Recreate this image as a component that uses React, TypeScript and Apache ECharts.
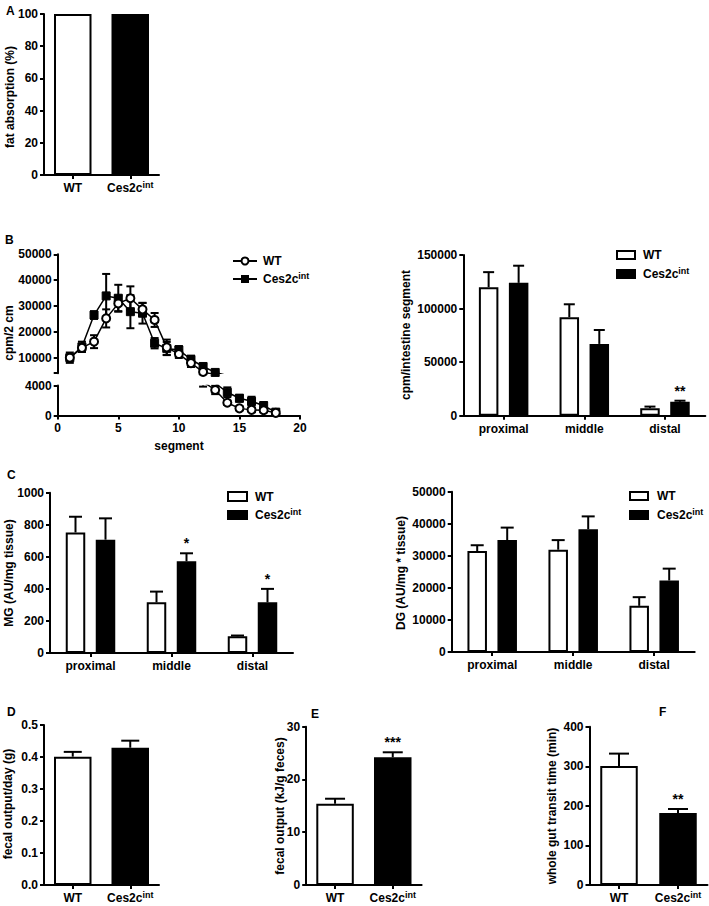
import React, { useEffect, useRef } from 'react';
import * as echarts from 'echarts';

const FONT = '"Liberation Sans", Arial, Helvetica, sans-serif';

// ---- data ----
const groups = ['WT', 'Ces2c'];

// A: fat absorption (%)
const fatAbsorption = [100, 100];

// B left: cpm / 2 cm per segment
const segments = [1, 2, 3, 4, 5, 6, 7, 8, 9, 10, 11, 12, 13, 14, 15, 16, 17, 18];
const cpmWT = [10000, 13800, 16200, 25200, 31000, 33000, 28700, 24600, 14000, 11400, 7900, 4500, 3400, 1700, 950, 750, 700, 350];
const cpmWTErr = [1000, 1500, 2500, 3500, 3000, 4600, 2500, 2700, 3000, 1500, 1500, 650, 550, 300, 250, 250, 250, 200];
const cpmCes = [10000, 14200, 26500, 33900, 33000, 27800, 27200, 15600, 13600, 13000, 9300, 6600, 4300, 3100, 2300, 1900, 1300, 450];
const cpmCesErr = [2000, 2000, 1500, 8500, 5200, 6400, 4000, 2000, 2500, 1500, 1500, 1000, 250, 650, 450, 600, 500, 300];

// B right: cpm / intestine segment
const regions = ['proximal', 'middle', 'distal'];
const segWT = [120000, 92000, 7000];
const segWTErr = [14000, 12000, 1500];
const segCes = [124000, 67000, 13000];
const segCesErr = [16000, 13000, 1000];
const segSig = ['', '', '**'];

// C left: MG (AU/mg tissue)
const mgWT = [752, 316, 104];
const mgWTErr = [98, 67, 5];
const mgCes = [707, 572, 316];
const mgCesErr = [133, 50, 84];
const mgSig = ['', '*', '*'];

// C right: DG (AU/mg * tissue)
const dgWT = [31500, 31900, 14400];
const dgWTErr = [1800, 3000, 2700];
const dgCes = [34900, 38300, 22300];
const dgCesErr = [3900, 4000, 3700];

// D: fecal output/day (g)
const fecalDay = [0.401, 0.429];
const fecalDayErr = [0.015, 0.022];

// E: fecal output (kJ/g feces)
const fecalEnergy = [15.4, 24.2];
const fecalEnergyErr = [0.95, 0.95];
const fecalEnergySig = ['', '***'];

// F: whole gut transit time (min)
const transit = [301, 182];
const transitErr = [31, 10];
const transitSig = ['', '**'];

// ---- styles ----
const BLACK = '#000';
const axisLine = { show: true, onZero: false, lineStyle: { color: BLACK, width: 2 } };
const tick = { show: true, length: 4, lineStyle: { color: BLACK, width: 2 } };
const plain = (v: number) => String(v);
const lbl = (extra: any = {}) => ({
  color: BLACK,
  fontFamily: FONT,
  fontWeight: 'bold',
  fontSize: 12,
  margin: 6,
  formatter: plain,
  ...extra,
});
const supRich = {
  sup: { fontSize: 9, fontWeight: 'bold', fontFamily: FONT, color: BLACK, fill: BLACK, verticalAlign: 'top', lineHeight: 8 },
};
const catFormatter = (v: string) => (v === 'Ces2c' ? 'Ces2c{sup|int}' : v);

const GROUP_BAR_W = 19.5;
const GROUP_OFFSET = 15;
const PAIR_BAR_W = 37.5;

function catX(gi: number, data: string[]) {
  return {
    type: 'category',
    gridIndex: gi,
    data,
    axisLine,
    axisTick: { ...tick, alignWithLabel: true, interval: 0 },
    axisLabel: lbl({ formatter: catFormatter, rich: supRich, lineHeight: 16, margin: 5, interval: 0, hideOverlap: false }),
    splitLine: { show: false },
  };
}

function valY(gi: number, min: number, max: number, interval: number, fmt?: (v: number) => string) {
  return {
    type: 'value',
    gridIndex: gi,
    min,
    max,
    interval,
    axisLine,
    axisTick: tick,
    axisLabel: lbl(fmt ? { formatter: fmt } : {}),
    splitLine: { show: false },
  };
}

function pairBars(ai: number, values: number[]) {
  return {
    type: 'bar',
    xAxisIndex: ai,
    yAxisIndex: ai,
    barWidth: PAIR_BAR_W,
    silent: true,
    z: 2,
    data: values.map((v, i) => ({
      value: v,
      itemStyle: { color: i === 0 ? '#fff' : BLACK, borderColor: BLACK, borderWidth: 2 },
    })),
  };
}

function groupBar(ai: number, values: number[], filled: boolean) {
  return {
    type: 'bar',
    xAxisIndex: ai,
    yAxisIndex: ai,
    barWidth: GROUP_BAR_W,
    barGap: ((GROUP_OFFSET * 2) / GROUP_BAR_W - 1) * 100 + '%',
    silent: true,
    z: 2,
    data: values,
    itemStyle: { color: filled ? BLACK : '#fff', borderColor: BLACK, borderWidth: 2 },
  };
}

function errSeries(
  ai: number,
  xs: number[],
  vals: number[],
  errs: number[],
  offset: number,
  capHalf: number,
  both: boolean,
  sig?: string[],
  clip = false
) {
  return {
    type: 'custom',
    xAxisIndex: ai,
    yAxisIndex: ai,
    silent: true,
    z: 3,
    data: xs.map((x, i) => [x, vals[i], errs[i]]),
    renderItem: (params: any, api: any) => {
      const x = api.value(0);
      const v = api.value(1);
      const e = api.value(2);
      const top = api.coord([x, v + e]);
      const bot = api.coord([x, both ? v - e : v]);
      const cx = top[0] + offset;
      const st = { stroke: BLACK, lineWidth: 2 };
      let y1 = top[1];
      let y2 = bot[1];
      let capTop = true;
      let capBot = both;
      if (clip) {
        const cs = params.coordSys;
        const yMin = cs.y;
        const yMax = cs.y + cs.height;
        if (y2 < yMin || y1 > yMax) return { type: 'group', children: [] };
        if (y1 < yMin - 0.5) { y1 = yMin; capTop = false; }
        if (y2 > yMax + 0.5) { y2 = yMax; capBot = false; }
      }
      const children: any[] = [
        { type: 'line', shape: { x1: cx, y1, x2: cx, y2 }, style: st },
      ];
      if (capTop) {
        children.push({ type: 'line', shape: { x1: cx - capHalf, y1, x2: cx + capHalf, y2: y1 }, style: st });
      }
      if (capBot) {
        children.push({ type: 'line', shape: { x1: cx - capHalf, y1: y2, x2: cx + capHalf, y2 }, style: st });
      }
      const s = sig ? sig[params.dataIndex] : '';
      if (s) {
        children.push({
          type: 'text',
          x: cx,
          y: top[1] - 3,
          style: {
            text: s,
            fontSize: 14,
            fontWeight: 'bold',
            fontFamily: FONT,
            fill: BLACK,
            align: 'center',
            verticalAlign: 'bottom',
            textAlign: 'center',
            textVerticalAlign: 'bottom',
          },
        });
      }
      return { type: 'group', children };
    },
  };
}

function lineSeries(ai: number, vals: number[], wt: boolean) {
  return {
    type: 'line',
    xAxisIndex: ai,
    yAxisIndex: ai,
    clip: true,
    silent: true,
    z: 4,
    data: segments.map((x, i) => [x, vals[i]]),
    symbol: wt ? 'circle' : 'rect',
    symbolSize: 8,
    showAllSymbol: true,
    itemStyle: wt
      ? { color: '#fff', borderColor: BLACK, borderWidth: 2 }
      : { color: BLACK, borderColor: BLACK, borderWidth: 1 },
    lineStyle: { color: BLACK, width: 1.5 },
  };
}

// ---- graphic helpers ----
function txt(x: number, y: number, text: string, opts: any = {}) {
  const { rotation, align = 'left', vAlign = 'middle', size = 12 } = opts;
  return {
    type: 'text',
    x,
    y,
    rotation: rotation || 0,
    silent: true,
    style: {
      text,
      fontSize: size,
      fontWeight: 'bold',
      fontFamily: FONT,
      fill: BLACK,
      align,
      verticalAlign: vAlign,
      textAlign: align,
      textVerticalAlign: vAlign,
      lineHeight: 16,
      rich: {
        sup: { fontSize: 9, fontWeight: 'bold', fontFamily: FONT, fill: BLACK, color: BLACK, verticalAlign: 'top', lineHeight: 8 },
      },
    },
  };
}
const ytitle = (x: number, y: number, text: string) => txt(x, y, text, { rotation: Math.PI / 2, align: 'center' });
const box = (x: number, y: number, w: number, h: number, filled: boolean) => ({
  type: 'rect',
  silent: true,
  shape: { x, y, width: w, height: h },
  style: { fill: filled ? BLACK : '#fff', stroke: BLACK, lineWidth: 2 },
});
const gline = (x1: number, y1: number, x2: number, y2: number) => ({
  type: 'line',
  silent: true,
  shape: { x1, y1, x2, y2 },
  style: { stroke: BLACK, lineWidth: 2 },
});

function buildOption() {
  // [left, top, width, height]
  const grids = [
    [44, 14, 115, 161], // A
    [57.7, 254.3, 242.3, 118.9], // B left upper (break)
    [57.7, 385.5, 242.3, 30], // B left lower
    [463.3, 255, 242, 160.7], // B right
    [50, 492.7, 243, 160.3], // C left
    [451.7, 491.7, 243, 160.3], // C right
    [44, 725, 115, 161.7], // D
    [306.2, 726.7, 115.4, 160.8], // E
    [589.5, 726.7, 118, 160], // F
  ];

  const xAxis: any[] = [
    catX(0, groups),
    { type: 'value', gridIndex: 1, min: 0, max: 20, show: false },
    {
      type: 'value',
      gridIndex: 2,
      min: 0,
      max: 20,
      interval: 5,
      axisLine,
      axisTick: tick,
      axisLabel: lbl({ margin: 6 }),
      splitLine: { show: false },
    },
    catX(3, regions),
    catX(4, regions),
    catX(5, regions),
    catX(6, groups),
    catX(7, groups),
    catX(8, groups),
  ];

  const yAxis: any[] = [
    valY(0, 0, 100, 20),
    {
      type: 'value',
      gridIndex: 1,
      min: 4000,
      max: 50000,
      axisLine,
      axisTick: { ...tick, customValues: [4000, 10000, 20000, 30000, 40000, 50000] },
      axisLabel: lbl({ customValues: [10000, 20000, 30000, 40000, 50000] }),
      splitLine: { show: false },
    },
    valY(2, 0, 4000, 4000),
    valY(3, 0, 150000, 50000),
    valY(4, 0, 1000, 200),
    valY(5, 0, 50000, 10000),
    valY(6, 0, 0.5, 0.1, (v: number) => v.toFixed(1)),
    valY(7, 0, 30, 10),
    valY(8, 0, 400, 100),
  ];

  const idx3 = [0, 1, 2];
  const idx2 = [0, 1];

  const series: any[] = [
    // A
    pairBars(0, fatAbsorption),
    // B left (two grids for the broken axis)
    ...[1, 2].flatMap((ai) => [
      errSeries(ai, segments, cpmCes, cpmCesErr, 0, 4, true, undefined, true),
      errSeries(ai, segments, cpmWT, cpmWTErr, 0, 4, true, undefined, true),
      lineSeries(ai, cpmCes, false),
      lineSeries(ai, cpmWT, true),
    ]),
    // B right
    groupBar(3, segWT, false),
    groupBar(3, segCes, true),
    errSeries(3, idx3, segWT, segWTErr, -GROUP_OFFSET, 5.5, false),
    errSeries(3, idx3, segCes, segCesErr, GROUP_OFFSET, 5.5, false, segSig),
    // C left
    groupBar(4, mgWT, false),
    groupBar(4, mgCes, true),
    errSeries(4, idx3, mgWT, mgWTErr, -GROUP_OFFSET, 6.5, false),
    errSeries(4, idx3, mgCes, mgCesErr, GROUP_OFFSET, 6.5, false, mgSig),
    // C right
    groupBar(5, dgWT, false),
    groupBar(5, dgCes, true),
    errSeries(5, idx3, dgWT, dgWTErr, -GROUP_OFFSET, 6.5, false),
    errSeries(5, idx3, dgCes, dgCesErr, GROUP_OFFSET, 6.5, false),
    // D
    pairBars(6, fecalDay),
    errSeries(6, idx2, fecalDay, fecalDayErr, 0, 9, false),
    // E
    pairBars(7, fecalEnergy),
    errSeries(7, idx2, fecalEnergy, fecalEnergyErr, 0, 10, false, fecalEnergySig),
    // F
    pairBars(8, transit),
    errSeries(8, idx2, transit, transitErr, 0, 10, false, transitSig),
  ];

  const CES = 'Ces2c{sup|int}';
  const elements: any[] = [
    // panel letters
    txt(6, 3, 'A', { vAlign: 'top' }),
    txt(5, 232, 'B', { vAlign: 'top' }),
    txt(7, 467, 'C', { vAlign: 'top' }),
    txt(7, 704, 'D', { vAlign: 'top' }),
    txt(311, 706, 'E', { vAlign: 'top' }),
    txt(659, 704, 'F', { vAlign: 'top' }),
    // axis titles
    ytitle(10, 97, 'fat absorption (%)'),
    ytitle(9, 333, 'cpm/2 cm'),
    ytitle(406, 335, 'cpm/intestine segment'),
    ytitle(9, 573, 'MG (AU/mg tissue)'),
    ytitle(401, 573, 'DG (AU/mg * tissue)'),
    ytitle(8, 804, 'fecal output/day (g)'),
    ytitle(280, 806, 'fecal output (kJ/g feces)'),
    ytitle(552, 806, 'whole gut transit time (min)'),
    txt(179, 446, 'segment', { align: 'center' }),
    // B left legend
    gline(233, 261, 257, 261),
    { type: 'circle', silent: true, shape: { cx: 245, cy: 261, r: 3.5 }, style: { fill: '#fff', stroke: BLACK, lineWidth: 2 } },
    txt(263, 261, 'WT'),
    gline(233, 279, 257, 279),
    { type: 'rect', silent: true, shape: { x: 241, y: 275, width: 8, height: 8 }, style: { fill: BLACK } },
    txt(263, 279, CES),
    // B right legend
    box(617, 251, 18, 8, false),
    txt(643, 255, 'WT'),
    box(617, 270, 18, 8, true),
    txt(643, 274, CES),
    // C left legend
    box(228, 492, 19, 9, false),
    txt(255, 496.5, 'WT'),
    box(228, 511, 19, 8, true),
    txt(255, 515, CES),
    // C right legend
    box(630, 492, 18, 8, false),
    txt(657, 496, 'WT'),
    box(630, 511, 18, 8, true),
    txt(657, 515, CES),
  ];

  return {
    animation: false,
    backgroundColor: '#fff',
    grid: grids.map((g) => ({ left: g[0], top: g[1], width: g[2], height: g[3], containLabel: false })),
    xAxis,
    yAxis,
    series,
    graphic: { elements },
  };
}

export default function App() {
  const ref = useRef<HTMLDivElement>(null);
  useEffect(() => {
    if (!ref.current) return;
    const chart = echarts.init(ref.current, null, { renderer: 'svg' });
    chart.setOption(buildOption() as any);
    return () => chart.dispose();
  }, []);
  return (
    <div
      ref={ref}
      style={{ position: 'absolute', left: 0, top: 0, width: 709, height: 906, background: '#fff' }}
    />
  );
}
